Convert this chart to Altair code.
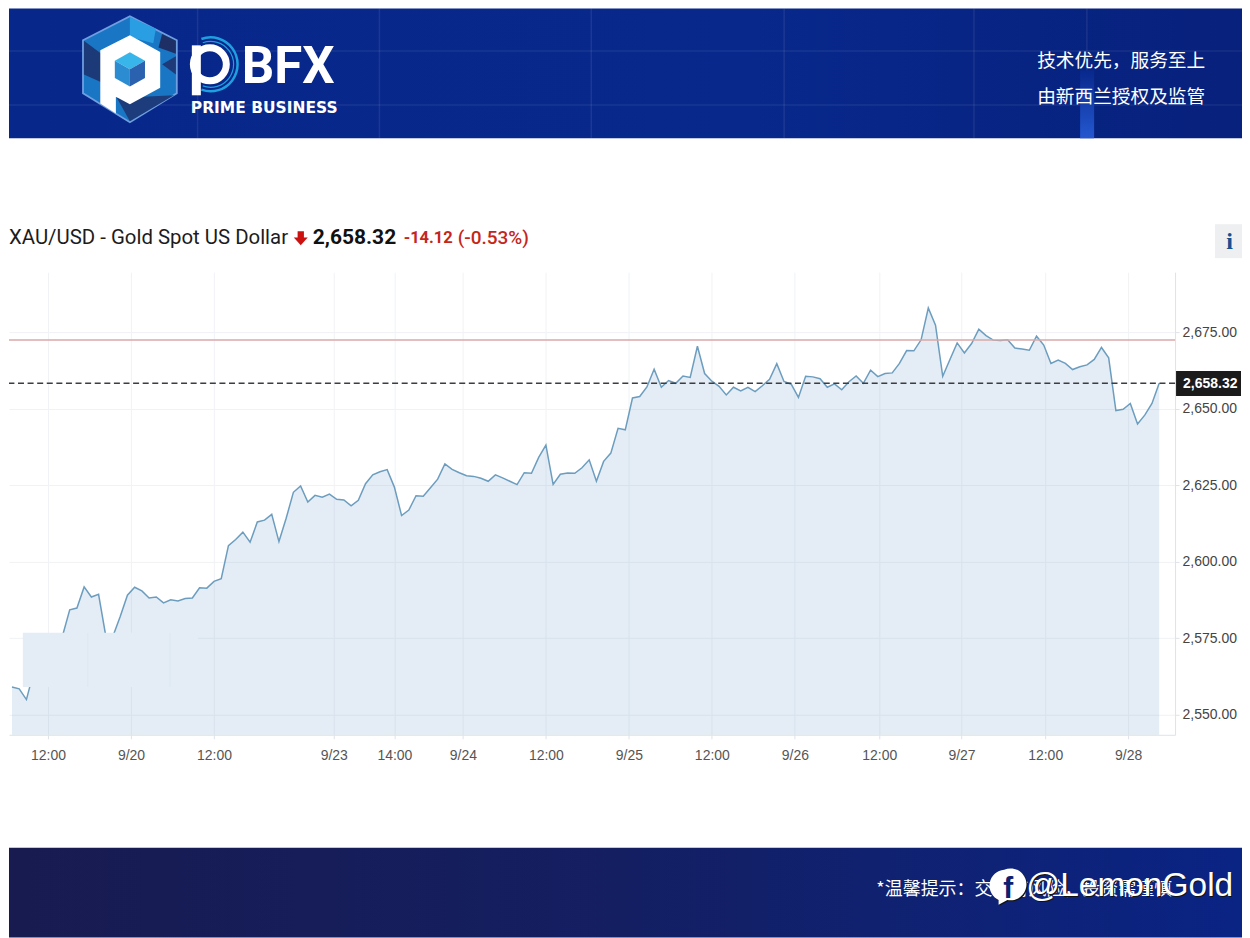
import json
import altair as alt
import pandas as pd

# hourly-ish closes (the weekend is collapsed, so x is a bar number)
prices = [
    2559.1, 2558.5, 2555.0, 2564.0, 2568.0, 2569.6, 2571.9, 2575.8, 2584.3, 2584.9,
    2591.8, 2588.5, 2589.4, 2575.8, 2575.8, 2582.1, 2589.1, 2591.7, 2590.5, 2588.2,
    2588.5, 2586.6, 2587.6, 2587.2, 2588.0, 2588.2, 2591.5, 2591.4, 2593.6, 2594.5,
    2605.3, 2607.3, 2609.7, 2606.4, 2613.0, 2613.6, 2615.5, 2606.6, 2614.2, 2622.7,
    2624.8, 2619.5, 2621.7, 2621.1, 2622.1, 2620.4, 2620.2, 2618.3, 2620.1, 2625.5,
    2628.4, 2629.4, 2630.1, 2624.4, 2615.1, 2616.9, 2621.6, 2621.4, 2624.2, 2627.0,
    2632.0, 2630.2, 2629.1, 2628.1, 2627.9, 2627.3, 2626.3, 2628.4, 2627.4, 2626.3,
    2625.2, 2629.1, 2628.9, 2634.1, 2638.1, 2625.3, 2628.6, 2629.0, 2628.9, 2630.7,
    2633.3, 2626.3, 2632.8, 2635.5, 2643.6, 2643.1, 2653.5, 2654.0, 2657.1, 2662.9,
    2657.0, 2659.2, 2658.3, 2660.7, 2660.2, 2670.4, 2661.5, 2659.0, 2657.3, 2654.5,
    2657.0, 2655.8, 2657.0, 2655.6, 2657.5, 2659.6, 2664.7, 2658.9, 2658.0, 2653.7,
    2660.6, 2660.4, 2659.8, 2657.0, 2658.1, 2656.2, 2658.8, 2660.7, 2658.3, 2662.6,
    2660.5, 2661.5, 2661.7, 2664.8, 2669.0, 2668.9, 2672.5, 2682.9, 2677.3, 2660.6,
    2666.1, 2671.5, 2668.2, 2671.3, 2676.0, 2673.9, 2672.4, 2672.3, 2672.5, 2669.8,
    2669.5, 2669.1, 2673.7, 2670.8, 2664.8, 2665.9, 2664.8, 2662.8, 2663.7, 2664.3,
    2666.1, 2670.0, 2666.6, 2649.4, 2649.8, 2651.7, 2645.0, 2647.9, 2651.7, 2658.32,
]
bars = list(range(len(prices)))

tick_bars = [5, 16.5, 28, 44.6, 53, 62.5, 74, 85.5, 97, 108.5, 120.2, 131.6, 143.2, 154.7]
tick_labels = ["12:00", "9/20", "12:00", "9/23", "14:00", "9/24", "12:00", "9/25",
               "12:00", "9/26", "12:00", "9/27", "12:00", "9/28"]
price_ticks = [2550, 2575, 2600, 2625, 2650, 2675]

last_price = 2658.32
prev_close = 2672.44
price_floor = 2543.5

# the pale block sitting over the left of the line, and the two faint strokes inside it
block_bars = [1.5, 25.8]
block_prices = [2576.8, 2559.1]
block_strokes = [10.5, 21.9]

PLOT_W, PLOT_H = 1167, 463
LEFT, TOP = 8, 272  # where the plot sits in the 1250x938 picture
RIGHT = 1242  # page margin on the right, the svg shrinks if it goes wider

x_scale = alt.Scale(domain=[-0.415, 161.2], nice=False, zero=False)
y_scale = alt.Scale(domain=[price_floor, 2694.6], nice=False, zero=False)

tick_map = json.dumps({str(b): t for b, t in zip(tick_bars, tick_labels)})

x_axis = alt.Axis(
    values=tick_bars, labelExpr=f"{tick_map}[datum.value]",
    grid=True, gridColor="#f1f2f5", domainColor="#dfe2e7", tickColor="#dfe2e7",
    tickSize=4, labelFontSize=14, labelColor="#555555", labelFont="Liberation Sans",
    labelPadding=10, labelFlush=False, labelOverlap=False,
)
y_axis = alt.Axis(
    orient="right", values=price_ticks, format=",.2f",
    grid=True, gridColor="#f1f2f5", domainColor="#dfe2e7", tickColor="#dfe2e7",
    tickSize=4, labelFontSize=14, labelColor="#444444", labelFont="Liberation Sans",
    labelPadding=3,
)


def px(x):
    return alt.value(x - LEFT)


def py(y):
    return alt.value(y - TOP)


def one():
    return alt.Data(values=[{}])


def text(s, x, y, size, color="#ffffff", font="Liberation Sans", weight="normal", align="left", **kw):
    return alt.Chart(one()).mark_text(
        text=s, fontSize=size, color=color, font=font, fontWeight=weight,
        align=align, baseline="middle", **kw
    ).encode(x=px(x), y=py(y))


def box(x, x2, y, y2, color, **kw):
    return alt.Chart(one()).mark_rect(color=color, **kw).encode(
        x=px(x), x2=px(x2), y=py(y), y2=py(y2)
    )


def glyph(path, x, y, r, fill="#ffffff"):
    # custom symbol path in -1..1, r is half the box in pixels
    return alt.Chart(one()).mark_point(
        shape=path, size=(2 * r) ** 2, fill=fill, filled=True, opacity=1, strokeWidth=0
    ).encode(x=px(x), y=py(y))


def outline(path, x, y, r, color, width):
    return alt.Chart(one()).mark_point(
        shape=path, size=(2 * r) ** 2, stroke=color, strokeWidth=width, fill="transparent",
        opacity=1
    ).encode(x=px(x), y=py(y))


# ---- chart proper
df = pd.DataFrame({"bar": bars, "price": prices})

area = alt.Chart(df).mark_area(color="#78a5cd", opacity=0.2).encode(
    x=alt.X("bar:Q", scale=x_scale, title=None, axis=x_axis),
    y=alt.Y("price:Q", scale=y_scale, title=None, axis=y_axis),
    y2=alt.datum(price_floor),
)

line = alt.Chart(df).mark_line(color="#6c9dbf", strokeWidth=1.5).encode(
    x=alt.X("bar:Q", scale=x_scale, title=None, axis=x_axis),
    y=alt.Y("price:Q", scale=y_scale, title=None, axis=y_axis),
)

block = alt.Chart(pd.DataFrame({
    "b0": [block_bars[0]], "b1": [block_bars[1]],
    "p0": [block_prices[0]], "p1": [block_prices[1]],
})).mark_rect(color="#e4edf5").encode(
    x=alt.X("b0:Q", scale=x_scale, title=None, axis=x_axis), x2="b1:Q",
    y=alt.Y("p0:Q", scale=y_scale, title=None, axis=y_axis), y2="p1:Q",
)
strokes = alt.Chart(pd.DataFrame({
    "b": block_strokes, "p0": [block_prices[0]] * 2, "p1": [block_prices[1]] * 2,
})).mark_rule(color="#dde7f0").encode(
    x=alt.X("b:Q", scale=x_scale, title=None, axis=x_axis),
    y=alt.Y("p0:Q", scale=y_scale, title=None, axis=y_axis), y2="p1:Q",
)

prev_rule = alt.Chart(pd.DataFrame({"p": [prev_close]})).mark_rule(
    color="#d9a8a8", strokeWidth=1.3
).encode(y=alt.Y("p:Q", scale=y_scale, title=None, axis=y_axis))

last_rule = alt.Chart(pd.DataFrame({"p": [last_price]})).mark_rule(
    color="#3a3d42", strokeWidth=1.3, strokeDash=[6, 3.6]
).encode(y=alt.Y("p:Q", scale=y_scale, title=None, axis=y_axis))

badge = box(1176, 1241, 371, 396, "#1b1b1b")
badge_text = text(f"{last_price:,.2f}", 1183, 384, 14, weight="bold")

# ---- header band
banner = box(LEFT, RIGHT, LEFT, 138, {
    "gradient": "linear", "x1": 0, "y1": 0, "x2": 1, "y2": 0,
    "stops": [
        {"offset": 0, "color": "#08278a"},
        {"offset": 0.6, "color": "#08288c"},
        {"offset": 1, "color": "#07217c"},
    ],
})
banner_lines = [
    box(x, x + 1.5, LEFT, 138, "#ffffff", opacity=0.08) for x in (196, 378, 590, 783, 973, 1086)
] + [
    box(LEFT, RIGHT, y, y + 1.5, "#ffffff", opacity=0.07) for y in (50, 104)
]
glow = box(1080, 1094, 70, 138, {
    "gradient": "linear", "x1": 0, "y1": 0, "x2": 0, "y2": 1,
    "stops": [
        {"offset": 0, "color": "#08288c"},
        {"offset": 1, "color": "#2458d0"},
    ],
})

HEX = "M0,-1L0.885,-0.55L0.885,0.45L0,1L-0.885,0.45L-0.885,-0.55Z"
logo = [
    glyph("M0,-1.04L0.92,-0.57L0.92,0.47L0,1.04L-0.92,0.47L-0.92,-0.57Z", 129, 69, 52, fill="#6f9fe0"),
    glyph(HEX, 129, 69, 52, fill="#1976c4"),
    glyph("M-0.885,-0.55L-0.55,-0.3L-0.55,0.25L-0.885,0.1Z", 129, 69, 52, fill="#1c3a78"),
    glyph("M0,-1L0.5,-0.78L0.45,-0.5L0,-0.62Z", 129, 69, 52, fill="#2a9ee2"),
    glyph("M0.62,-0.68L0.885,-0.55L0.885,-0.3L0.55,-0.42Z", 129, 69, 52, fill="#1e2f66"),
    glyph("M0.62,-0.1L0.885,-0.25L0.885,0.1Z", 129, 69, 52, fill="#1e3a78"),
    glyph("M-0.25,0.55L0.85,0.5L0,1Z", 129, 69, 52, fill="#1d3c7c"),
    glyph("M-0.57,-0.365L0,-0.654L0.583,-0.333L0.583,0.353L0,0.67L-0.27,0.53L-0.27,0.85L-0.57,0.66Z",
          129, 69, 52),
    glyph("M0,-0.33L0.29,-0.165L0,0L-0.29,-0.165Z", 129, 69, 52, fill="#38b6ea"),
    glyph("M-0.29,-0.165L0,0L0,0.33L-0.29,0.165Z", 129, 69, 52, fill="#2c8cd2"),
    glyph("M0.29,-0.165L0,0L0,0.33L0.29,0.165Z", 129, 69, 52, fill="#2a62b0"),
]

ARC = "M-0.35,-0.94A1,1 0 1 1 -0.35,0.94"
RING = "M0,-1A1,1 0 1 1 0,1A1,1 0 1 1 0,-1Z"
wordmark = [
    outline(ARC, 210, 64, 27, "#1e9fe0", 2.5),
    outline(ARC, 210, 64, 23, "#1e9fe0", 1.2),
    outline(RING, 209, 64, 16.5, "#ffffff", 7),
    box(191, 200, 45, 95, "#ffffff"),
    text("BFX", 241, 68, 51, font="Roboto", weight="bold"),
    text("PRIME BUSINESS", 190, 108, 15.5, font="DejaVu Sans", weight="bold"),
]

slogan = [
    text("技术优先，服务至上", 1037, 61, 18.7, font="Noto Sans CJK SC"),
    text("由新西兰授权及监管", 1037, 97, 18.7, font="Noto Sans CJK SC"),
]

# ---- quote line above the plot
quote = [
    text("XAU/USD - Gold Spot US Dollar", 8, 238, 20.4, color="#1c1c1c", font="Roboto"),
    glyph("M-0.45,-1L0.45,-1L0.45,-0.1L1,-0.1L0,1L-1,-0.1L-0.45,-0.1Z", 300, 238, 7, fill="#cc1111"),
    text("2,658.32", 312, 238, 21, color="#111111", font="Roboto", weight="bold"),
    text("-14.12", 403, 238, 16.5, color="#c4261d", font="Roboto", weight="bold"),
    text("(-0.53%)", 457, 238, 19, color="#c4261d", font="Roboto", weight=500),
    box(1215, RIGHT, 224, 258, "#eeeff1"),
    text("i", 1229.5, 242, 24, color="#17508f", font="Liberation Serif", weight="bold", align="center"),
]

# ---- footer band with the watermark across it
footer = box(LEFT, RIGHT, 848, 938, {
    "gradient": "linear", "x1": 0, "y1": 0, "x2": 1, "y2": 0,
    "stops": [
        {"offset": 0, "color": "#181b50"},
        {"offset": 0.5, "color": "#141f62"},
        {"offset": 1, "color": "#0a2484"},
    ],
})
BLOB = "M0,-1A1,1 0 1 1 0.2,0.9L-0.35,1.2L-0.35,0.9A1,1 0 0 1 0,-1Z"
footer_marks = [
    text("*温馨提示：交易有风险，投资需谨慎", 876, 890, 18, font="Noto Sans CJK SC"),
    glyph(BLOB, 1005, 887, 16, fill="#111111"),
    glyph(BLOB, 1004, 886, 16),
    text("f", 1008, 889, 30, color="#0d2170", weight="bold", align="center"),
    text("@LemonGold", 1027, 887, 33.5, color="#111111"),
    text("@LemonGold", 1026, 886, 33.5),
]

chart = alt.layer(
    area, line, block, strokes, prev_rule, last_rule, badge, badge_text,
    banner, *banner_lines, glow, *logo, *wordmark, *slogan, *quote,
    footer, *footer_marks,
).properties(
    width=PLOT_W, height=PLOT_H, padding=0, background="#ffffff",
    autosize=alt.AutoSizeParams(type="pad"),
).configure_view(stroke=None)

chart.save("out.html", embed_options={"renderer": "svg", "actions": False})
